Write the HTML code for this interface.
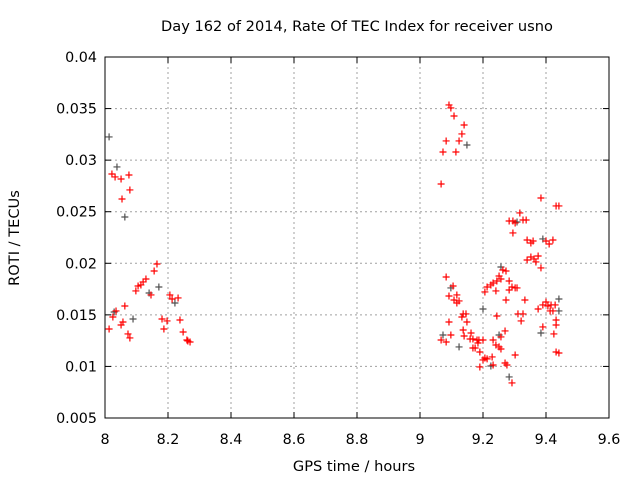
<!DOCTYPE html>
<html><head><meta charset="utf-8"><style>
body{margin:0;background:#fff;width:640px;height:480px;overflow:hidden}
svg{display:block;font-family:"DejaVu Sans","Liberation Sans",sans-serif}
</style></head><body>
<svg id="chart" width="640" height="480">
<text x="357" y="31" font-size="14.6" text-anchor="middle" fill="#000">Day 162 of 2014, Rate Of TEC Index for receiver usno</text>
<text x="354" y="471" font-size="14.6" text-anchor="middle" fill="#000">GPS time / hours</text>
<text x="19" y="238" font-size="14.6" text-anchor="middle" fill="#000" transform="rotate(-90 19 238)">ROTI / TECUs</text>
<g id="grid"></g>
<g id="axes"></g>
<g id="marks"></g>
</svg>
<script>
const xTicks=[8,8.2,8.4,8.6,8.8,9,9.2,9.4,9.6];
const xTickLabels=["8","8.2","8.4","8.6","8.8","9","9.2","9.4","9.6"];
const yTicks=[0.005,0.01,0.015,0.02,0.025,0.03,0.035,0.04];
const yTickLabels=["0.005","0.01","0.015","0.02","0.025","0.03","0.035","0.04"];
const redX=[8.022,8.032,8.051,8.076,8.079,8.054,8.165,8.156,8.130,8.121,8.114,8.105,8.098,8.146,8.206,8.213,8.232,8.063,8.035,8.025,8.013,8.057,8.051,8.181,8.197,8.238,8.187,8.073,8.079,8.248,8.260,8.270,8.263,
9.092,9.098,9.108,9.140,9.133,9.083,9.124,9.073,9.114,9.067,9.384,9.432,9.441,9.317,9.283,9.295,9.302,9.327,9.337,9.295,9.340,9.352,9.359,9.400,9.410,9.422,9.340,9.352,9.362,9.368,9.375,9.384,9.263,9.273,9.083,9.251,9.257,9.244,9.283,9.232,9.225,9.213,9.105,9.292,9.302,9.308,9.283,9.206,9.241,9.092,9.117,9.108,9.124,9.117,9.273,9.333,9.400,9.390,9.406,9.416,9.429,9.375,9.413,9.422,9.137,9.146,9.133,9.244,9.311,9.327,9.321,9.432,9.092,9.149,9.432,9.390,9.137,9.270,9.425,9.098,9.162,9.140,9.257,9.067,9.083,9.159,9.168,9.181,9.187,9.200,9.232,9.184,9.241,9.251,9.257,9.168,9.175,9.190,9.302,9.229,9.206,9.200,9.213,9.232,9.190,9.270,9.276,9.292,9.432,9.441];
const redY=[0.02866,0.02837,0.02817,0.02856,0.02711,0.02623,0.01993,0.01925,0.01848,0.01819,0.01790,0.01780,0.01732,0.01693,0.01693,0.01654,0.01664,0.01586,0.01538,0.01479,0.01363,0.01431,0.01402,0.01460,0.01441,0.01450,0.01363,0.01315,0.01276,0.01334,0.01256,0.01237,0.01247,
0.03535,0.03506,0.03428,0.03341,0.03254,0.03186,0.03186,0.03079,0.03079,0.02769,0.02633,0.02556,0.02556,0.02488,0.02410,0.02410,0.02391,0.02420,0.02420,0.02294,0.02226,0.02197,0.02216,0.02216,0.02187,0.02226,0.02032,0.02061,0.02042,0.02013,0.02071,0.01955,0.01935,0.01925,0.01867,0.01877,0.01848,0.01828,0.01828,0.01809,0.01790,0.01770,0.01780,0.01770,0.01761,0.01761,0.01741,0.01722,0.01732,0.01683,0.01693,0.01644,0.01635,0.01615,0.01644,0.01644,0.01625,0.01596,0.01586,0.01596,0.01596,0.01557,0.01538,0.01538,0.01509,0.01509,0.01479,0.01489,0.01509,0.01509,0.01441,0.01450,0.01431,0.01431,0.01402,0.01383,0.01353,0.01344,0.01315,0.01305,0.01324,0.01295,0.01286,0.01256,0.01237,0.01266,0.01266,0.01256,0.01256,0.01256,0.01256,0.01227,0.01208,0.01189,0.01169,0.01179,0.01179,0.01140,0.01111,0.01092,0.01082,0.01063,0.01073,0.01014,0.00995,0.01033,0.01014,0.00840,0.01140,0.01130];
const greyX=[8.013,8.038,8.063,8.140,8.171,8.222,8.029,8.089,9.149,9.308,9.390,9.257,9.098,9.441,9.441,9.200,9.384,9.073,9.251,9.124,9.225,9.283];
const greyY=[0.03225,0.02934,0.02449,0.01712,0.01770,0.01615,0.01528,0.01460,0.03147,0.02400,0.02236,0.01964,0.01761,0.01654,0.01538,0.01557,0.01324,0.01305,0.01305,0.01189,0.01004,0.00898];

const L=105,R=609,T=57,B=418;
const sx=v=>L+(v-8)/1.6*(R-L);
const sy=v=>B-(v-0.005)/0.035*(B-T);
const NS="http://www.w3.org/2000/svg";
function mk(tag,attrs,parent){const e=document.createElementNS(NS,tag);for(const k in attrs)e.setAttribute(k,attrs[k]);parent.appendChild(e);return e;}
const grid=document.getElementById('grid'),axes=document.getElementById('axes'),marks=document.getElementById('marks');
xTicks.forEach((v,i)=>{const x=sx(v);
 if(i>0&&i<xTicks.length-1){const g=mk('line',{x1:x,x2:x,y1:T,y2:B,stroke:'#a0a0a0','stroke-dasharray':'2,3'},grid);
  
  }
 const t1=mk('line',{x1:x,x2:x,y1:B,y2:B-6,stroke:'#000'},axes);
 
 
 const t2=mk('line',{x1:x,x2:x,y1:T,y2:T+6,stroke:'#000'},axes);
 
 
 const tx=mk('text',{x:x,y:B+26,'font-size':14.3,'text-anchor':'middle'},axes);tx.textContent=xTickLabels[i];
 
 
});
yTicks.forEach((v,i)=>{const y=sy(v);
 if(i>0&&i<yTicks.length-1){const g=mk('line',{x1:L,x2:R,y1:y,y2:y,stroke:'#a0a0a0','stroke-dasharray':'2,3'},grid);
  
  }
 const t1=mk('line',{x1:L,x2:L+6,y1:y,y2:y,stroke:'#000'},axes);
 
 
 const t2=mk('line',{x1:R,x2:R-6,y1:y,y2:y,stroke:'#000'},axes);
 
 
 const tx=mk('text',{x:L-8,y:y+5,'font-size':14.3,'text-anchor':'end'},axes);tx.textContent=yTickLabels[i];
 
 
});
const fr=mk('rect',{x:L,y:T,width:R-L,height:B-T,fill:'none',stroke:'#000'},axes);


function plus(x,y,c,name){const p=mk('path',{d:`M${x-3.5},${y}H${x+3.5}M${x},${y-3.5}V${y+3.5}`,stroke:c,'stroke-width':1.2,fill:'none'},marks);
 
 }
greyX.forEach((v,i)=>plus(sx(v),sy(greyY[i]),'#505050','grey-point'));
redX.forEach((v,i)=>plus(sx(v),sy(redY[i]),'#ff0000','red-point'));
</script>
</body></html>
